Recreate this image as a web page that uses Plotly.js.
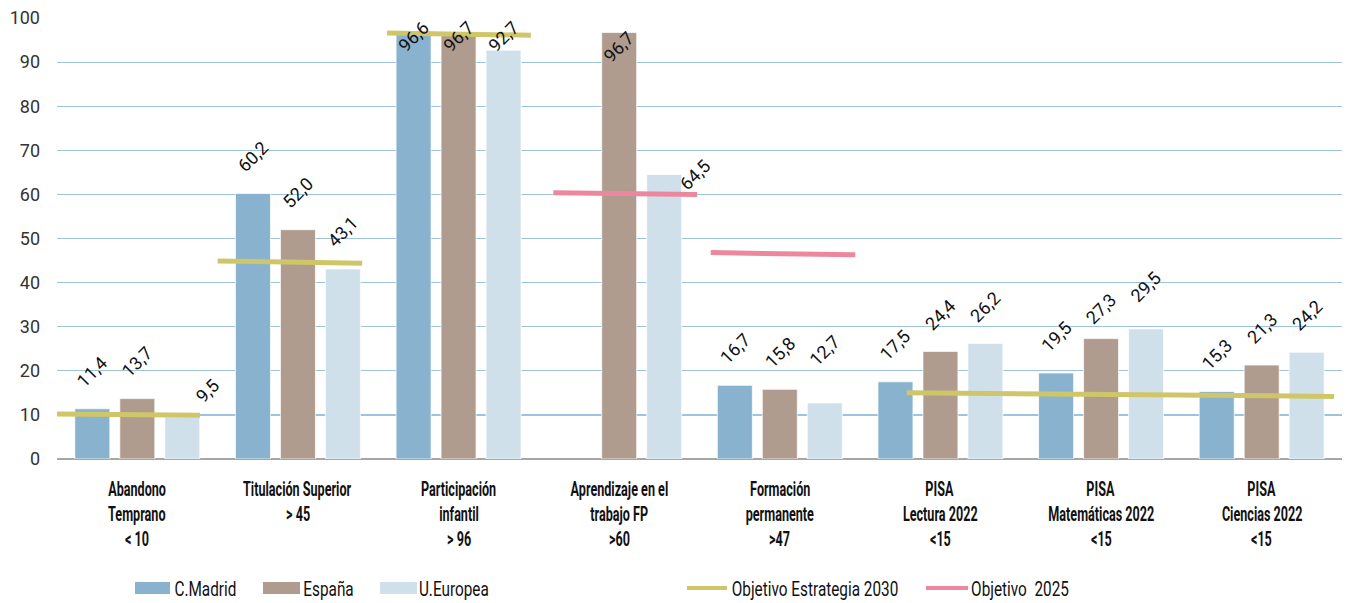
<!DOCTYPE html>
<html>
<head>
<meta charset="utf-8">
<script src="https://cdn.plot.ly/plotly-3.0.1.min.js"></script>
<style>html,body{margin:0;padding:0;background:#fff;}#chart{width:1346px;height:603px;}</style>
</head>
<body>
<div id="chart"></div>
<script>
// ---------- DATA ----------
const categoryLines = [
  ["Abandono", "Temprano", "< 10"],
  ["Titulación Superior", "> 45", ""],
  ["Participación", "infantil", "> 96"],
  ["Aprendizaje en el", "trabajo FP", ">60"],
  ["Formación", "permanente", ">47"],
  ["PISA", "Lectura 2022", "<15"],
  ["PISA", "Matemáticas 2022", "<15"],
  ["PISA", "Ciencias 2022", "<15"]
];
const seriesNames = ["C.Madrid", "España", "U.Europea"];
const madrid = [11.4, 60.2, 96.6, null, 16.7, 17.5, 19.5, 15.3];
const espana = [13.7, 52.0, 96.7, 96.7, 15.8, 24.4, 27.3, 21.3];
const uEuropea = [9.5, 43.1, 92.7, 64.5, 12.7, 26.2, 29.5, 24.2];

// Objetivo Estrategia 2030 segments (x in category units)
const obj2030X0 = [-0.5, 0.50, 1.555, 4.79];
const obj2030X1 = [0.39, 1.40, 2.45, 7.45];
const obj2030Y0 = [10.2, 44.9, 96.6, 15.0];
const obj2030Y1 = [9.9, 44.4, 96.1, 14.2];
// Objetivo 2025 segments
const obj2025X0 = [2.59, 3.57];
const obj2025X1 = [3.485, 4.47];
const obj2025Y0 = [60.4, 46.8];
const obj2025Y1 = [60.0, 46.3];

const yTicks = [0, 10, 20, 30, 40, 50, 60, 70, 80, 90, 100];

// ---------- STYLE / LAYOUT ----------
const W = 1346, H = 603;
const M = {l: 57, r: 4, t: 18, b: 144};
const plotW = W - M.l - M.r, plotH = H - M.t - M.b;
const colors = ["#89B2CE", "#B09C8E", "#D0E0EA"];
const col2030 = "#CFC66A", col2025 = "#EB889E";
const textFont = "Roboto, 'Liberation Sans', sans-serif";
const numFont = "Roboto, 'Liberation Sans', sans-serif";
const bargap = 0.16;
const slot = (1 - bargap) / 3;
const pxPerUnit = plotH / 100;
const labelOffset = 37, labelMinTop = 19;
// label nudges [dx, dy] in px, keyed "category,series"
const labelNudge = {"0,2": [25, 10], "3,1": [0, 10], "3,2": [31, 37], "4,2": [0, -15], "6,1": [0, 7], "6,2": [0, -5]};
const catSqueeze = 0.6, legSqueeze = 0.73;

const xIdx = categoryLines.map((_, i) => i);
const allSeries = [madrid, espana, uEuropea];
const fmt = v => v.toFixed(1).replace('.', ',');

const traces = allSeries.map((vals, j) => ({
  type: 'bar', x: xIdx, y: vals, name: seriesNames[j],
  marker: {color: colors[j], line: {color: 'rgba(255,255,255,0.7)', width: 1}},
  showlegend: false, hoverinfo: 'y'
}));

function segs(x0, x1, y0, y1) {
  const xs = [], ys = [];
  for (let k = 0; k < x0.length; k++) { xs.push(x0[k], x1[k], null); ys.push(y0[k], y1[k], null); }
  return {xs, ys};
}
const s30 = segs(obj2030X0, obj2030X1, obj2030Y0, obj2030Y1);
const s25 = segs(obj2025X0, obj2025X1, obj2025Y0, obj2025Y1);
traces.push({type: 'scatter', mode: 'lines', x: s30.xs, y: s30.ys, name: 'Objetivo Estrategia 2030',
  line: {color: col2030, width: 5}, showlegend: false, hoverinfo: 'skip', connectgaps: false});
traces.push({type: 'scatter', mode: 'lines', x: s25.xs, y: s25.ys, name: 'Objetivo  2025',
  line: {color: col2025, width: 5}, showlegend: false, hoverinfo: 'skip', connectgaps: false});

const annotations = [];
const squeeze = {}; // annotation index -> horizontal squeeze factor
// data labels
allSeries.forEach((vals, j) => {
  vals.forEach((v, i) => {
    if (v === null) return;
    const pxTop = (100 - v) * pxPerUnit;
    let center = Math.max(pxTop - labelOffset, labelMinTop);
    const n = labelNudge[i + "," + j] || [0, 0];
    center += n[1];
    annotations.push({
      xref: 'x', yref: 'y', x: i + (j - 1) * slot, y: v,
      xshift: n[0], yshift: pxTop - center,
      text: fmt(v), textangle: -45, showarrow: false,
      xanchor: 'center', yanchor: 'middle',
      font: {family: numFont, size: 18, color: '#111'}
    });
  });
});
// category labels
const lineCenters = [489, 514, 539];
categoryLines.forEach((lines, i) => {
  lines.forEach((t, k) => {
    if (!t) return;
    squeeze[annotations.length] = catSqueeze;
    annotations.push({
      xref: 'x', yref: 'paper', x: i, y: 0, yshift: -(lineCenters[k] - (M.t + plotH)),
      text: '<b>' + t + '</b>', showarrow: false, xanchor: 'center', yanchor: 'middle',
      font: {family: textFont, size: 21, color: '#111'}
    });
  });
});
// custom legend
const px2x = px => (px - M.l) / plotW;
const px2y = py => (M.t + plotH - py) / plotH;
const legY = 588;
const legendItems = [
  {kind: 'rect', color: colors[0], x0: 135, x1: 170, text: seriesNames[0], tc: 205},
  {kind: 'rect', color: colors[1], x0: 263, x1: 300, text: seriesNames[1], tc: 328.5},
  {kind: 'rect', color: colors[2], x0: 380, x1: 417, text: seriesNames[2], tc: 454},
  {kind: 'line', color: col2030, x0: 687, x1: 727, text: 'Objetivo Estrategia 2030', tc: 814.5},
  {kind: 'line', color: col2025, x0: 926, x1: 968, text: 'Objetivo  2025', tc: 1020}
];
const shapes = [];
legendItems.forEach(it => {
  if (it.kind === 'rect') {
    shapes.push({type: 'rect', xref: 'paper', yref: 'paper', x0: px2x(it.x0), x1: px2x(it.x1),
      y0: px2y(legY - 6), y1: px2y(legY + 6), fillcolor: it.color, line: {width: 0}});
  } else {
    shapes.push({type: 'line', xref: 'paper', yref: 'paper', x0: px2x(it.x0), x1: px2x(it.x1),
      y0: px2y(legY), y1: px2y(legY), line: {color: it.color, width: 4}});
  }
  squeeze[annotations.length] = legSqueeze;
  annotations.push({xref: 'paper', yref: 'paper', x: px2x(it.tc), y: px2y(legY + 1),
    text: it.text.replace(/  /g, ' &nbsp;'), showarrow: false, xanchor: 'center', yanchor: 'middle',
    font: {family: textFont, size: 21, color: '#111'}});
});

const layout = {
  width: W, height: H,
  margin: M,
  paper_bgcolor: '#fff', plot_bgcolor: '#fff',
  barmode: 'group', bargap: bargap, bargroupgap: 0.222,
  showlegend: false,
  xaxis: {range: [-0.5, 7.5], showticklabels: false, showgrid: false, zeroline: false, showline: false, ticks: '', fixedrange: true},
  yaxis: {range: [0, 100], tickvals: yTicks, ticktext: yTicks.map(String), showgrid: true, gridcolor: '#9DC3DF', gridwidth: 1.2,
    zeroline: true, zerolinecolor: '#A6A6A6', zerolinewidth: 2, showline: false, ticks: '', ticklabelstandoff: 16,
    tickfont: {family: numFont, size: 18, color: '#333'}, fixedrange: true},
  annotations: annotations,
  shapes: shapes
};

Plotly.newPlot('chart', traces, layout, {displayModeBar: false, staticPlot: true}).then(gd => {
  // condense text horizontally to mimic the narrow typeface of the original
  gd.querySelectorAll('.annotation').forEach(g => {
    const idx = +g.getAttribute('data-index');
    const f = squeeze[idx];
    if (!f) return;
    const t = g.querySelector('text.annotation-text');
    if (!t) return;
    const len = t.getComputedTextLength();
    t.setAttribute('textLength', (len * f).toFixed(1));
    t.setAttribute('lengthAdjust', 'spacingAndGlyphs');
  });
});
</script>
</body>
</html>
